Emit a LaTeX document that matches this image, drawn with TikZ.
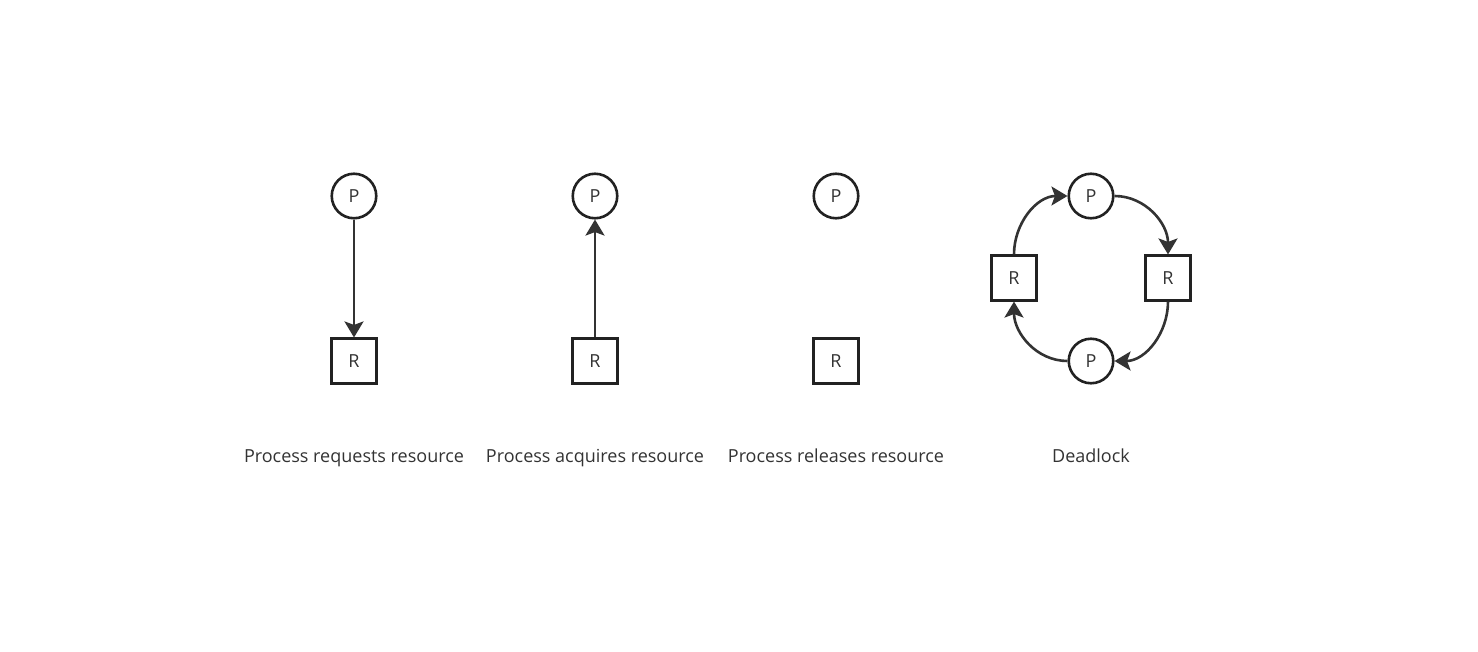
\documentclass[tikz,border=0pt]{standalone}
\usepackage{fontspec}
\setmainfont{Open Sans}
\usetikzlibrary{arrows.meta,positioning}
\definecolor{inkline}{HTML}{333333}
\definecolor{inkbox}{HTML}{222222}
\tikzset{>={Stealth[length=16pt,width=19pt,inset=3.5pt]}}

\begin{document}
\begin{tikzpicture}[x=1pt, y=-1pt,
    proc/.style={circle, draw=inkbox, line width=2.6pt, minimum size=44.5pt, inner sep=0pt, text=inkline, font=\fontsize{18}{21}\selectfont},
    res/.style={rectangle, draw=inkbox, line width=2.6pt, minimum size=44.5pt, inner sep=0pt, text=inkline, font=\fontsize{18}{21}\selectfont},
    caption/.style={anchor=base, text=inkline, font=\fontsize{18}{21}\selectfont},
    edge/.style={->, draw=inkline, line width=2.6pt}]
    \useasboundingbox (0,0) rectangle (1478,652);
    \foreach[count=\i] \cx/\lbl in {354/Process requests resource, 595/Process acquires resource, 836/Process releases resource} {
        \node[proc] (p-\i) at (\cx,196) {P};
        \node[res] (r-\i) at (\cx,361) {R};
        \node[caption] (cap-\i) at (\cx,462) {\lbl};
    }
    \draw[edge] (p-1) -- (r-1);
    \draw[edge] (r-2) -- (p-2);

    % deadlock cycle
    \node[proc] (pt) at (1091,196) {P};
    \node[proc] (pb) at (1091,361) {P};
    \node[res] (rl) at (1014,278) {R};
    \node[res] (rr) at (1168,278) {R};
    \node[caption] (cap-4) at (1091,462) {Deadlock};
    \draw[edge] (rl.north) to[out=90, in=180] (pt.west);
    \draw[edge] (pt.east) to[out=0, in=90] (rr.north);
    \draw[edge] (rr.south) to[out=-90, in=0] (pb.east);
    \draw[edge] (pb.west) to[out=180, in=-90] (rl.south);

\end{tikzpicture}
\end{document}
